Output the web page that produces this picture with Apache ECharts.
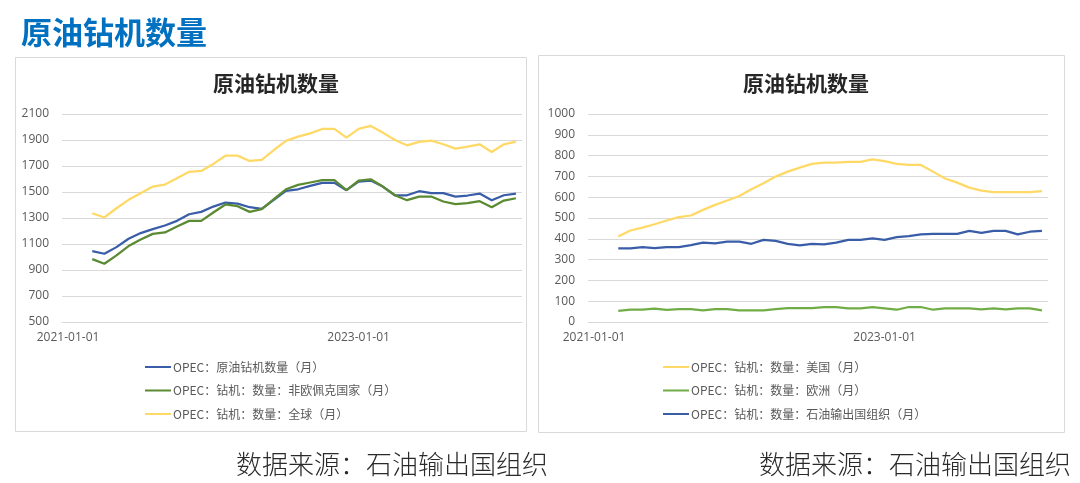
<!DOCTYPE html>
<html>
<head>
<meta charset="utf-8">
<script src="https://cdn.jsdelivr.net/npm/echarts@6/dist/echarts.min.js"></script>
<style>
html,body{margin:0;padding:0;background:#fff;}
#c{width:1080px;height:483px;}
</style>
</head>
<body>
<div id="c"></div>
<script>
// ---- data ----
// axis categories (monthly slots on the date axis)
var axisMonths = ['2021-01-01','2021-02-01','2021-03-01','2021-04-01','2021-05-01','2021-06-01','2021-07-01','2021-08-01','2021-09-01','2021-10-01','2021-11-01','2021-12-01',
  '2022-01-01','2022-02-01','2022-03-01','2022-04-01','2022-05-01','2022-06-01','2022-07-01','2022-08-01','2022-09-01','2022-10-01','2022-11-01','2022-12-01',
  '2023-01-01','2023-02-01','2023-03-01','2023-04-01','2023-05-01','2023-06-01','2023-07-01','2023-08-01','2023-09-01','2023-10-01','2023-11-01','2023-12-01',
  '2024-01-01','2024-02-01'];
// months that carry data
var months = ['2021-03-01','2021-04-01','2021-05-01','2021-06-01','2021-07-01','2021-08-01','2021-09-01','2021-10-01','2021-11-01','2021-12-01',
  '2022-01-01','2022-02-01','2022-03-01','2022-04-01','2022-05-01','2022-06-01','2022-07-01','2022-08-01','2022-09-01','2022-10-01','2022-11-01','2022-12-01',
  '2023-01-01','2023-02-01','2023-03-01','2023-04-01','2023-05-01','2023-06-01','2023-07-01','2023-08-01','2023-09-01','2023-10-01','2023-11-01','2023-12-01',
  '2024-01-01','2024-02-01'];
var xTickLabels = ['2021-01-01','2023-01-01'];
var leftYTicks = {min:500, max:2100, interval:200};
var rightYTicks = {min:0, max:1000, interval:100};

var opecCrude = [1045,1025,1076,1140,1184,1214,1242,1278,1329,1347,1388,1419,1411,1383,1370,1440,1509,1521,1547,1570,1570,1514,1580,1588,1542,1475,1475,1506,1491,1491,1465,1473,1488,1437,1475,1488];
var nonOpec   = [984,948,1012,1084,1135,1178,1189,1235,1278,1278,1342,1404,1391,1347,1368,1445,1521,1555,1573,1591,1591,1514,1588,1598,1542,1475,1437,1465,1465,1427,1406,1414,1429,1383,1434,1452];
var globalRigs= [1337,1304,1375,1440,1491,1542,1557,1606,1655,1662,1716,1779,1780,1739,1747,1823,1893,1926,1951,1985,1985,1918,1985,2008,1957,1900,1859,1885,1895,1867,1834,1849,1867,1808,1867,1888];

var usRigs    = [411,440,454,470,488,504,512,539,563,584,606,638,667,699,723,742,760,766,766,770,770,782,773,760,755,755,723,690,670,646,632,624,624,624,624,629];
var europeRigs= [53,59,59,64,58,62,62,56,62,62,56,56,56,62,67,67,67,72,72,66,66,72,66,59,72,72,59,66,66,66,61,66,61,66,66,56];
var opecRigs  = [354,354,360,355,360,360,370,382,378,386,386,376,395,390,376,368,376,373,382,395,395,402,395,408,413,421,424,424,424,438,429,438,438,421,434,438];

var leftNames = ['OPEC：原油钻机数量（月）','OPEC：钻机：数量：非欧佩克国家（月）','OPEC：钻机：数量：全球（月）'];
var rightNames = ['OPEC：钻机：数量：美国（月）','OPEC：钻机：数量：欧洲（月）','OPEC：钻机：数量：石油输出国组织（月）'];

// ---- helpers ----
function pairs(vals){ return vals.map(function(v,i){ return [months[i], v]; }); }

var BLUE='#3A5DA8', GREEN_L='#5A8A32', GREEN_R='#70AD47', YELLOW='#FFD966';
var axisFont = {color:'#595959', fontSize:12, fontFamily:'"Open Sans","Noto Sans",sans-serif'};
var cjk = '"Noto Sans CJK SC","Noto Sans",sans-serif';

function xAxis(gi){
  return {type:'category', gridIndex:gi, data:axisMonths, boundaryGap:true,
    axisLine:{show:true, lineStyle:{color:'#d9d9d9', width:1}},
    axisTick:{show:false}, splitLine:{show:false},
    axisLabel:Object.assign({
      interval:function(idx, val){ return xTickLabels.indexOf(val) >= 0; },
      margin:10, hideOverlap:false}, axisFont)};
}
function yAxis(gi, t){
  return {type:'value', gridIndex:gi, min:t.min, max:t.max, interval:t.interval,
    axisLine:{show:false}, axisTick:{show:false},
    splitLine:{lineStyle:{color:'#d9d9d9', width:1}},
    axisLabel:Object.assign({margin:13, formatter:function(v){ return String(v); }}, axisFont)};
}
function line(name, vals, color, gi){
  return {type:'line', name:name, xAxisIndex:gi, yAxisIndex:gi, data:pairs(vals), symbol:'none',
    lineStyle:{color:color, width:2.25}, itemStyle:{color:color}, z:2};
}
function legend(names, left){
  return {orient:'vertical', left:left, top:361, padding:0, itemWidth:26, itemHeight:2, itemGap:11.5, icon:'rect',
    data:names, textStyle:{color:'#595959', fontSize:12, fontFamily:cjk, padding:[0,0,0,-3]}};
}

var chart = echarts.init(document.getElementById('c'), null, {renderer:'canvas'});
chart.setOption({
  animation:false,
  backgroundColor:'#fff',
  title:[
    {text:'原油钻机数量', left:16, top:12, textStyle:{color:'#0070C0', fontSize:31, fontWeight:'bold', fontFamily:cjk}},
    {text:'原油钻机数量', left:271, top:68, textAlign:'center', textStyle:{color:'#262626', fontSize:21, fontWeight:'bold', fontFamily:cjk}},
    {text:'原油钻机数量', left:801, top:68, textAlign:'center', textStyle:{color:'#262626', fontSize:21, fontWeight:'bold', fontFamily:cjk}},
    {text:'数据来源：石油输出国组织', left:231, top:446, textStyle:{color:'#2a2a2a', fontSize:26, fontWeight:300, fontFamily:cjk}},
    {text:'数据来源：石油输出国组织', left:754, top:446, textStyle:{color:'#2a2a2a', fontSize:26, fontWeight:300, fontFamily:cjk}}
  ],
  graphic:[
    {type:'rect', shape:{x:15.5, y:57.5, width:511, height:374}, style:{fill:'none', stroke:'#d9d9d9', lineWidth:1}, z:-1},
    {type:'rect', shape:{x:538.5, y:55.5, width:526, height:377}, style:{fill:'none', stroke:'#d9d9d9', lineWidth:1}, z:-1}
  ],
  grid:[
    {left:62, top:114, width:460, height:208},
    {left:588, top:114, width:460, height:208}
  ],
  xAxis:[xAxis(0), xAxis(1)],
  yAxis:[yAxis(0, leftYTicks), yAxis(1, rightYTicks)],
  legend:[legend(leftNames, 145), legend(rightNames, 663)],
  series:[
    line(leftNames[0], opecCrude, BLUE, 0),
    line(leftNames[1], nonOpec, GREEN_L, 0),
    line(leftNames[2], globalRigs, YELLOW, 0),
    line(rightNames[0], usRigs, YELLOW, 1),
    line(rightNames[1], europeRigs, GREEN_R, 1),
    line(rightNames[2], opecRigs, BLUE, 1)
  ]
});
</script>
</body>
</html>
